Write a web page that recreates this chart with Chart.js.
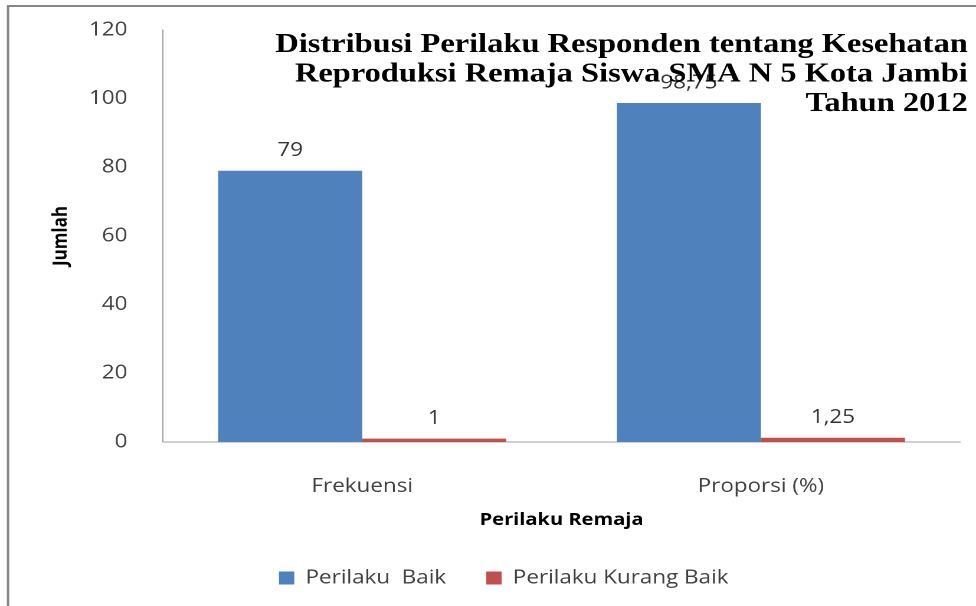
<!DOCTYPE html>
<html lang="id">
<head>
  <meta charset="UTF-8">
  <title>Distribusi Perilaku Responden</title>
  <script src="https://cdn.jsdelivr.net/npm/chart.js"></script>
  <style>
    html, body { margin: 0; padding: 0; background: #fff; overflow: hidden; }
    /* the source picture is stretched sideways, so the chart is too */
    #wrap { width: 827px; height: 606px; transform: scaleX(1.1802); transform-origin: 0 0; }
  </style>
</head>
<body>
  <div id="wrap"><canvas id="chart"></canvas></div>

  <script>
    // data
    const categories = ['Frekuensi', 'Proporsi (%)'];
    const perilakuBaik = [79, 98.75];
    const perilakuKurangBaik = [1, 1.25];
    const seriesNames = ['Perilaku  Baik', 'Perilaku Kurang Baik'];
    const yTicks = { min: 0, max: 120, step: 20 };
    const titleLines = [
      'Distribusi Perilaku Responden tentang Kesehatan',
      'Reproduksi Remaja Siswa SMA N 5 Kota Jambi',
      'Tahun 2012'
    ];

    const textGrey = '#404040';

    // outer frame of the original picture (top and left edge only)
    const framePlugin = {
      id: 'frame',
      beforeDraw(chart) {
        const c = chart.ctx;
        c.save();
        c.strokeStyle = '#868686';
        c.lineWidth = 2;
        c.beginPath();
        c.moveTo(6.8, chart.height);
        c.lineTo(6.8, 6);
        c.lineTo(chart.width, 6);
        c.stroke();
        c.restore();
      }
    };

    // value labels above each bar, decimal comma
    const valueLabels = {
      id: 'valueLabels',
      afterDatasetsDraw(chart) {
        const c = chart.ctx;
        c.save();
        c.font = "19px 'Open Sans'";
        c.fillStyle = '#333';
        c.textAlign = 'center';
        c.textBaseline = 'middle';
        chart.data.datasets.forEach((ds, i) => {
          chart.getDatasetMeta(i).data.forEach((bar, j) => {
            const txt = String(ds.data[j]).replace('.', ',');
            c.fillText(txt, bar.x, bar.y - 20);
          });
        });
        c.restore();
      }
    };

    // title sits inside the plot, top right, serif bold
    const titleBlock = {
      id: 'titleBlock',
      afterDraw(chart) {
        const c = chart.ctx;
        c.save();
        c.font = "bold 27.5px 'Liberation Serif'";
        c.fillStyle = '#000';
        c.textAlign = 'right';
        c.textBaseline = 'alphabetic';
        titleLines.forEach((line, i) => c.fillText(line, 820, 52 + i * 29.5));
        c.restore();
      }
    };

    Chart.defaults.font.family = "'Open Sans', sans-serif";
    Chart.defaults.color = textGrey;

    const ctx = document.getElementById('chart').getContext('2d');
    const chart = new Chart(ctx, {
      type: 'bar',
      data: {
        labels: categories,
        datasets: [{
          label: seriesNames[0],
          data: perilakuBaik,
          backgroundColor: '#4F81BD',
          borderWidth: 0
        }, {
          label: seriesNames[1],
          data: perilakuKurangBaik,
          backgroundColor: '#C0504D',
          borderWidth: 0
        }]
      },
      options: {
        responsive: true,
        maintainAspectRatio: false,
        animation: false,
        devicePixelRatio: 2,
        layout: { padding: { left: 40, right: 13.4, top: 30, bottom: 8.5 } },
        datasets: { bar: { categoryPercentage: 0.7227, barPercentage: 1 } },
        scales: {
          x: {
            grid: { display: false },
            border: { display: true, color: '#a0a0a0', width: 1 },
            ticks: { padding: 25, color: textGrey, font: { size: 19 } },
            title: {
              display: true,
              text: 'Perilaku Remaja',
              color: '#000',
              font: { size: 17, weight: 'bold' },
              padding: { top: 0, bottom: 4.3 }
            },
            afterFit(scale) { scale.height = 92.5; }
          },
          y: {
            min: yTicks.min,
            max: yTicks.max,
            grid: { display: false },
            border: { display: true, color: '#a0a0a0', width: 1 },
            ticks: { stepSize: yTicks.step, padding: 22, color: textGrey, font: { size: 19 } },
            title: {
              display: true,
              text: 'Jumlah',
              color: '#000',
              font: { size: 17, weight: 'bold' },
              padding: { top: 1.5, bottom: 0 }
            },
            afterFit(scale) {
              scale.width = 98;
              scale.paddingTop = 0;
              scale.paddingBottom = 0;
            }
          }
        },
        plugins: {
          legend: {
            position: 'bottom',
            labels: {
              boxWidth: 13,
              boxHeight: 13,
              padding: 34,
              color: textGrey,
              font: { size: 19 }
            }
          },
          tooltip: { enabled: false }
        }
      },
      plugins: [framePlugin, valueLabels, titleBlock]
    });
  </script>
</body>
</html>
